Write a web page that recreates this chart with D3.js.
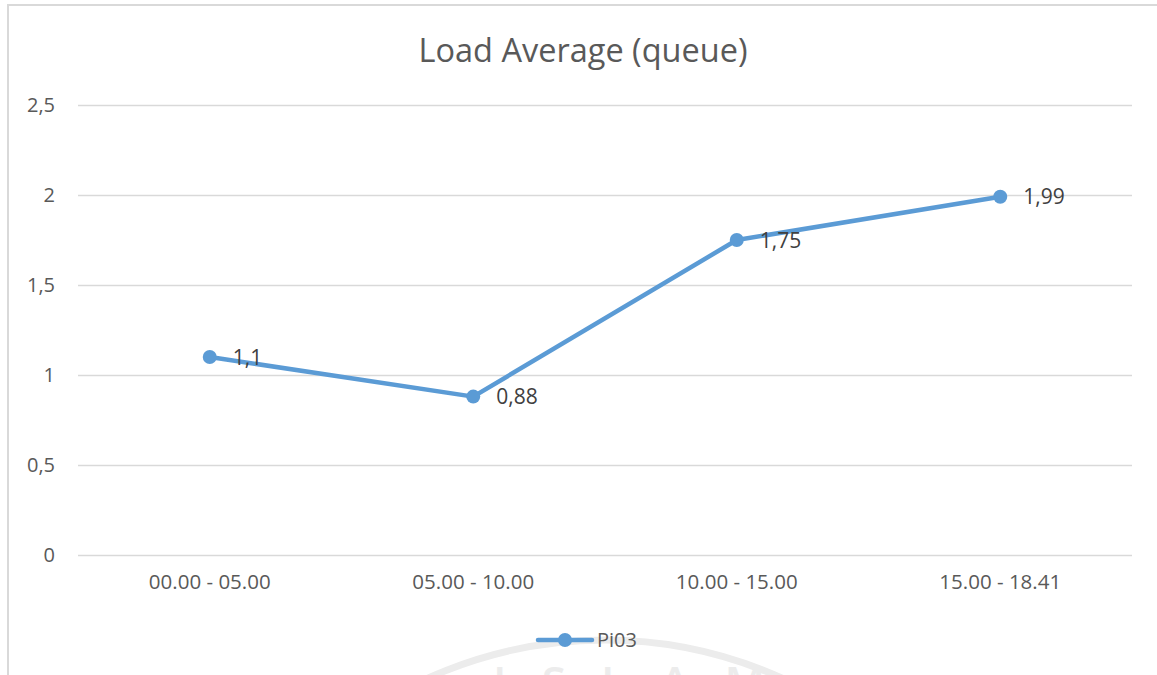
<!DOCTYPE html>
<html>
<head>
<meta charset="utf-8">
<script src="https://cdn.jsdelivr.net/npm/d3@7"></script>
<style>
  html, body { margin: 0; padding: 0; background: #fff; }
  svg { display: block; }
  text { font-family: "Open Sans", "Noto Sans", sans-serif; }
</style>
</head>
<body>
<svg id="chart" width="1157" height="675"></svg>
<script>
// Load average per time window (Pi03)
const categories = ["00.00 - 05.00", "05.00 - 10.00", "10.00 - 15.00", "15.00 - 18.41"];
const pi03 = [1.1, 0.88, 1.75, 1.99];
const yTicks = [0, 0.5, 1, 1.5, 2, 2.5];
const seriesName = "Pi03";
const chartTitle = "Load Average (queue)";

const W = 1157, H = 675;
const margin = { left: 78, right: 25, top: 105, bottom: 120 };
const svg = d3.select("#chart");

const fmt = v => String(v).replace(".", ",");

const x = d3.scaleBand().domain(categories).range([margin.left, W - margin.right]);
const y = d3.scaleLinear().domain([0, 2.5]).range([H - margin.bottom, margin.top]);

// faint watermark at the bottom
const wm = svg.append("g");
wm.append("circle")
  .attr("cx", 605).attr("cy", 1070).attr("r", 430)
  .attr("fill", "none").attr("stroke", "#ececec").attr("stroke-width", 7);
wm.append("text")
  .attr("x", 493).attr("y", 698)
  .attr("textLength", 272).attr("lengthAdjust", "spacing")
  .attr("font-size", 44).attr("font-weight", 600)
  .attr("fill", "#ececec")
  .text("ISLAM");

// chart frame (top and left edges visible)
svg.append("path")
  .attr("d", `M8,${H} L8,5 L${W},5`)
  .attr("fill", "none").attr("stroke", "#d9d9d9").attr("stroke-width", 2);

// title
svg.append("text")
  .attr("x", 583).attr("y", 62)
  .attr("text-anchor", "middle")
  .attr("font-size", 32.5).attr("fill", "#595959")
  .text(chartTitle);

// gridlines and value axis
const yAxis = d3.axisLeft(y).tickValues(yTicks).tickSize(-(W - margin.left - margin.right)).tickFormat(fmt).tickPadding(23);
const gy = svg.append("g").attr("transform", `translate(${margin.left},0)`).call(yAxis);
gy.select(".domain").remove();
gy.selectAll(".tick line").attr("stroke", "#d9d9d9").attr("stroke-width", 1.5);
gy.selectAll(".tick text")
  .attr("font-size", 20).attr("fill", "#595959")
  .attr("font-family", "\"Open Sans\", sans-serif");

// category axis
const xAxis = d3.axisBottom(x).tickSize(0).tickPadding(19);
const gx = svg.append("g").attr("transform", `translate(0,${H - margin.bottom})`).call(xAxis);
gx.select(".domain").remove();
gx.selectAll(".tick text")
  .attr("font-size", 20.5).attr("fill", "#595959")
  .attr("font-family", "\"Open Sans\", sans-serif");

const pts = categories.map((c, i) => ({ c, v: pi03[i] }));
const cx = d => x(d.c) + x.bandwidth() / 2;

// series line and markers
svg.append("path")
  .datum(pts)
  .attr("d", d3.line().x(cx).y(d => y(d.v)))
  .attr("fill", "none").attr("stroke", "#5b9bd5")
  .attr("stroke-width", 4.5).attr("stroke-linejoin", "round").attr("stroke-linecap", "round");

svg.selectAll("circle.pt").data(pts).enter().append("circle")
  .attr("class", "pt")
  .attr("cx", cx).attr("cy", d => y(d.v)).attr("r", 7)
  .attr("fill", "#5b9bd5");

// data labels
svg.selectAll("text.lbl").data(pts).enter().append("text")
  .attr("class", "lbl")
  .attr("x", d => cx(d) + 23).attr("y", d => y(d.v))
  .attr("dy", "0.36em")
  .attr("font-size", 21).attr("fill", "#404040")
  .text(d => fmt(d.v));

// legend
const lg = svg.append("g").attr("transform", "translate(565,640)");
lg.append("line").attr("x1", -27).attr("x2", 27).attr("y1", 0).attr("y2", 0)
  .attr("stroke", "#5b9bd5").attr("stroke-width", 4.5).attr("stroke-linecap", "round");
lg.append("circle").attr("r", 7).attr("fill", "#5b9bd5");
lg.append("text").attr("x", 32).attr("y", 0).attr("dy", "0.36em")
  .attr("font-size", 20).attr("fill", "#595959").text(seriesName);
</script>
</body>
</html>
